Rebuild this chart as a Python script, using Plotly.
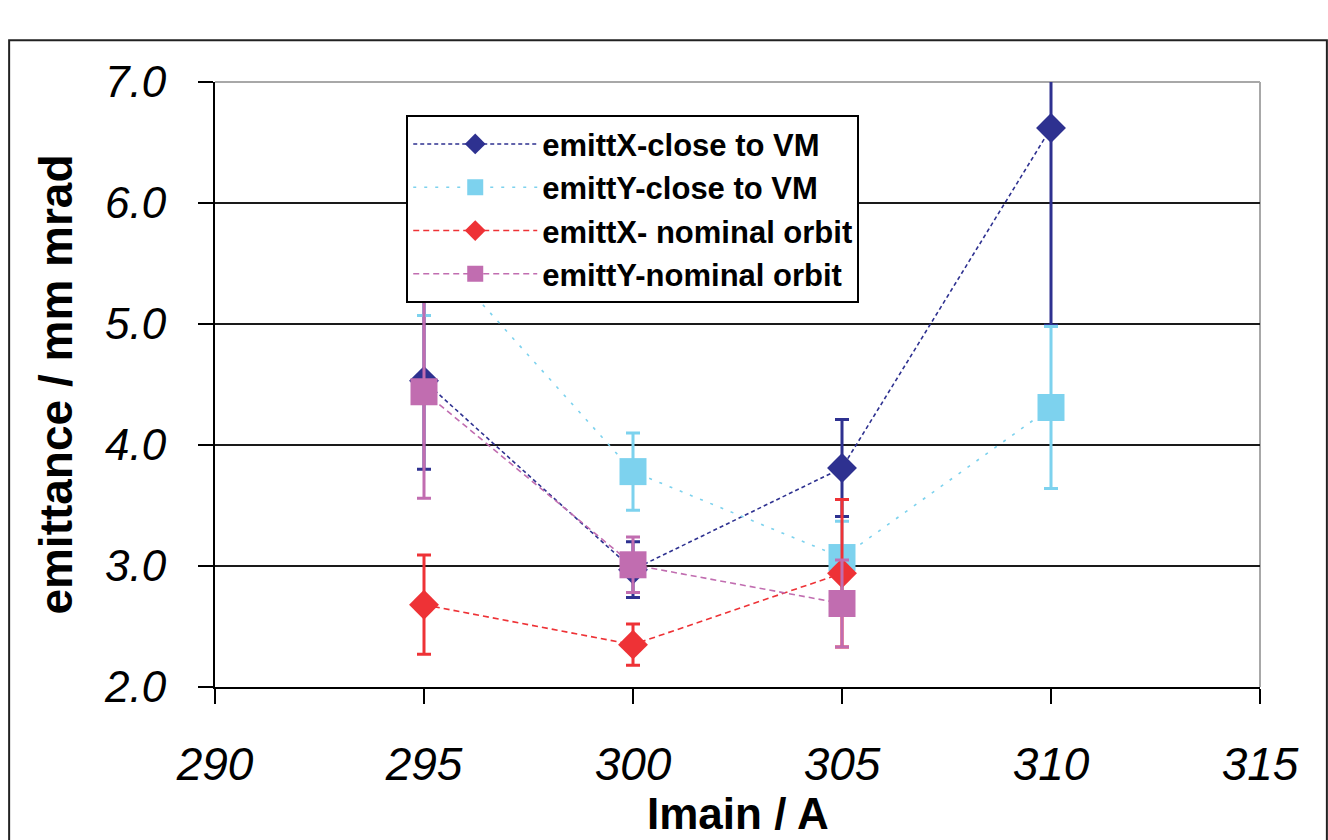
import plotly.graph_objects as go

# Main magnet current (A)
imain = [295, 300, 305, 310]
imain_nominal = [295, 300, 305]

# Emittance (mm mrad) and their uncertainties
emittx_vm = [4.53, 2.97, 3.81, 6.62]
emittx_vm_err = [0.73, 0.23, 0.40, 1.63]

emitty_vm = [5.70, 3.78, 3.07, 4.31]
emitty_vm_err = [0.63, 0.32, 0.30, 0.67]

emittx_nom = [2.68, 2.35, 2.94]
emittx_nom_err = [0.41, 0.17, 0.61]

emitty_nom = [4.44, 3.01, 2.69]
emitty_nom_err = [0.88, 0.23, 0.36]

x_ticks = [290, 295, 300, 305, 310, 315]
y_ticks = [2.0, 3.0, 4.0, 5.0, 6.0, 7.0]

FONT = "Liberation Sans, Arial, sans-serif"

series = [
    ("emittX-close to VM", imain, emittx_vm, emittx_vm_err, "#2E3190", "diamond", 23, "4px,3px"),
    ("emittY-close to VM", imain, emitty_vm, emitty_vm_err, "#7DD2EE", "square", 27, "3px,8px"),
    ("emittX- nominal orbit", imain_nominal, emittx_nom, emittx_nom_err, "#EE3236", "diamond", 23, "6px,4px"),
    ("emittY-nominal orbit", imain_nominal, emitty_nom, emitty_nom_err, "#C16DB0", "square", 27, "6px,4px"),
]

fig = go.Figure()
for name, xs, ys, errs, color, symbol, size, dash in series:
    fig.add_trace(go.Scatter(
        x=xs, y=ys, name=name, mode="lines+markers",
        line=dict(color=color, width=1.6, dash=dash),
        marker=dict(symbol=symbol, size=size, color=color, line=dict(width=0)),
        error_y=dict(type="data", array=errs, visible=True,
                     color=color, thickness=3, width=7),
    ))

# plot-area frame: grey top and right edges
fig.add_shape(type="line", xref="paper", yref="paper", x0=0, x1=1, y0=1, y1=1,
              line=dict(color="#A8A8A8", width=2), layer="between")
fig.add_shape(type="line", xref="paper", yref="paper", x0=1, x1=1, y0=0, y1=1,
              line=dict(color="#A8A8A8", width=2), layer="between")
# outer chart border
fig.add_shape(type="rect", xref="paper", yref="paper",
              x0=-0.197, x1=1.064, y0=-0.6, y1=1.069,
              line=dict(color="#222222", width=2), layer="below")

fig.add_annotation(text="<b>emittance / mm mrad</b>", textangle=-90,
                   xref="paper", yref="paper", x=-0.153, y=0.5,
                   xanchor="center", yanchor="middle", showarrow=False,
                   font=dict(family=FONT, size=46, color="black"))
fig.add_annotation(text="<b>Imain / A</b>",
                   xref="paper", yref="paper", x=0.5, y=-0.2529,
                   xanchor="center", yanchor="bottom", showarrow=False,
                   font=dict(family=FONT, size=44, color="black"))

fig.update_layout(
    width=1328, height=840,
    margin=dict(l=215, r=68, t=82, b=153, autoexpand=False),
    paper_bgcolor="white", plot_bgcolor="white",
    font=dict(family=FONT, color="black"),
    showlegend=True,
    legend=dict(
        x=0.183, y=0.945, xanchor="left", yanchor="top",
        bgcolor="white", bordercolor="black", borderwidth=2,
        font=dict(family=FONT, size=31, color="black", weight="bold"),
        itemwidth=124, tracegroupgap=0,
    ),
    xaxis=dict(
        range=[290, 315], tickvals=x_ticks, ticktext=[str(v) for v in x_ticks],
        showgrid=False, zeroline=False,
        showline=True, linecolor="black", linewidth=2,
        ticks="outside", ticklen=15, tickwidth=2, tickcolor="black",
        tickfont=dict(family=FONT, size=46, style="italic", color="black"),
        ticklabelstandoff=21,
    ),
    yaxis=dict(
        range=[2, 7], tickvals=y_ticks, ticktext=[f"{v:.1f}" for v in y_ticks],
        showgrid=True, gridcolor="#1A1A1A", gridwidth=2, zeroline=False,
        showline=True, linecolor="black", linewidth=2,
        ticks="outside", ticklen=15, tickwidth=2, tickcolor="black",
        tickfont=dict(family=FONT, size=44, style="italic", color="black"),
        ticklabelstandoff=23,
    ),
)

fig.write_html("out.html")
